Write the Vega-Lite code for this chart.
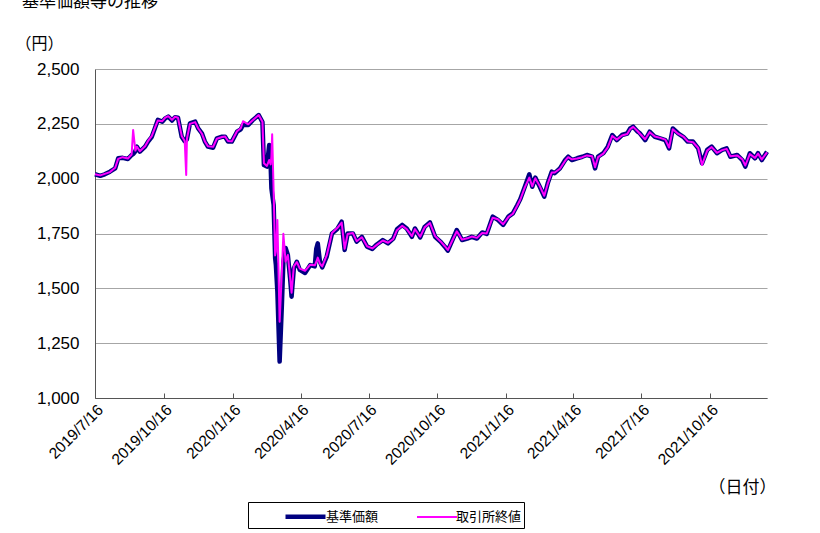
{
  "$schema": "https://vega.github.io/schema/vega-lite/v6.json",
  "width": 672,
  "height": 329,
  "autosize": {"type": "none"},
  "padding": {"left": 95, "top": 69, "right": 53, "bottom": 135},
  "background": "white",
  "title": {"text": "基準価額等の推移", "anchor": "start", "frame": "group", "dx": -73, "offset": 7, "baseline": "bottom", "fontSize": 17, "fontWeight": "normal", "font": "Noto Sans CJK JP", "color": "#000"},
  "config": {
    "view": {"stroke": null},
    "font": "Liberation Sans, Noto Sans CJK JP",
    "axis": {"labelFont": "Liberation Sans, Noto Sans CJK JP", "titleFont": "Noto Sans CJK JP", "labelColor": "#000", "titleColor": "#000", "titleFontWeight": "normal"},
    "legend": {"labelFont": "Noto Sans CJK JP", "labelColor": "#000"}
  },
  "data": {"values": [
    {"date":"2019-07-16","基準価額":2020,"取引所終値":2020},
    {"date":"2019-07-23","基準価額":2013,"取引所終値":2015},
    {"date":"2019-07-29","基準価額":2020,"取引所終値":2022},
    {"date":"2019-08-05","基準価額":2032,"取引所終値":2030},
    {"date":"2019-08-12","基準価額":2047,"取引所終値":2050},
    {"date":"2019-08-16","基準価額":2093,"取引所終値":2090},
    {"date":"2019-08-22","基準価額":2095,"取引所終値":2098},
    {"date":"2019-08-29","基準価額":2090,"取引所終値":2092},
    {"date":"2019-09-03","基準価額":2108,"取引所終値":2110},
    {"date":"2019-09-05","基準価額":2112,"取引所終値":2222},
    {"date":"2019-09-08","基準価額":2125,"取引所終値":2128},
    {"date":"2019-09-10","基準価額":2146,"取引所終値":2146},
    {"date":"2019-09-14","基準価額":2123,"取引所終値":2125},
    {"date":"2019-09-21","基準価額":2146,"取引所終値":2148},
    {"date":"2019-09-25","基準価額":2169,"取引所終値":2172},
    {"date":"2019-09-30","基準価額":2191,"取引所終値":2195},
    {"date":"2019-10-04","基準価額":2229,"取引所終値":2230},
    {"date":"2019-10-08","基準価額":2268,"取引所終値":2265},
    {"date":"2019-10-14","基準価額":2260,"取引所終値":2262},
    {"date":"2019-10-18","基準価額":2275,"取引所終値":2278},
    {"date":"2019-10-22","基準価額":2283,"取引所終値":2285},
    {"date":"2019-10-27","基準価額":2265,"取引所終値":2268},
    {"date":"2019-10-31","基準価額":2280,"取引所終値":2282},
    {"date":"2019-11-04","基準価額":2278,"取引所終値":2278},
    {"date":"2019-11-09","基準価額":2191,"取引所終値":2195},
    {"date":"2019-11-13","基準価額":2170,"取引所終値":2172},
    {"date":"2019-11-15","基準価額":2175,"取引所終値":2017},
    {"date":"2019-11-16","基準価額":2180,"取引所終値":2182},
    {"date":"2019-11-20","基準価額":2252,"取引所終値":2250},
    {"date":"2019-11-27","基準価額":2260,"取引所終値":2258},
    {"date":"2019-12-01","基準価額":2229,"取引所終値":2230},
    {"date":"2019-12-06","基準価額":2207,"取引所終値":2205},
    {"date":"2019-12-10","基準価額":2169,"取引所終値":2170},
    {"date":"2019-12-14","基準価額":2146,"取引所終値":2148},
    {"date":"2019-12-21","基準価額":2141,"取引所終値":2145},
    {"date":"2019-12-26","基準価額":2184,"取引所終値":2182},
    {"date":"2020-01-02","基準価額":2191,"取引所終値":2190},
    {"date":"2020-01-06","基準価額":2191,"取引所終値":2192},
    {"date":"2020-01-10","基準価額":2169,"取引所終値":2172},
    {"date":"2020-01-15","基準価額":2169,"取引所終値":2170},
    {"date":"2020-01-22","基準価額":2214,"取引所終値":2216},
    {"date":"2020-01-27","基準価額":2225,"取引所終値":2230},
    {"date":"2020-01-30","基準価額":2245,"取引所終値":2262},
    {"date":"2020-02-06","基準価額":2245,"取引所終値":2248},
    {"date":"2020-02-12","基準価額":2267,"取引所終値":2266},
    {"date":"2020-02-20","基準価額":2290,"取引所終値":2290},
    {"date":"2020-02-25","基準価額":2258,"取引所終値":2260},
    {"date":"2020-02-27","基準価額":2062,"取引所終値":2070},
    {"date":"2020-03-02","基準価額":2055,"取引所終値":2058},
    {"date":"2020-03-05","基準価額":2153,"取引所終値":2085},
    {"date":"2020-03-07","基準価額":2062,"取引所終値":2065},
    {"date":"2020-03-08","基準価額":1957,"取引所終値":2100},
    {"date":"2020-03-09","基準価額":1930,"取引所終値":2202},
    {"date":"2020-03-11","基準価額":1880,"取引所終値":1941},
    {"date":"2020-03-13","基準価額":1638,"取引所終値":1650},
    {"date":"2020-03-14","基準価額":1606,"取引所終値":1668},
    {"date":"2020-03-16","基準価額":1485,"取引所終値":1812},
    {"date":"2020-03-19","基準価額":1166,"取引所終値":1348},
    {"date":"2020-03-22","基準価額":1424,"取引所終値":1575},
    {"date":"2020-03-24","基準価額":1621,"取引所終値":1749},
    {"date":"2020-03-27","基準価額":1684,"取引所終値":1621},
    {"date":"2020-03-30","基準価額":1652,"取引所終値":1652},
    {"date":"2020-04-02","基準価額":1546,"取引所終値":1550},
    {"date":"2020-04-04","基準価額":1462,"取引所終値":1480},
    {"date":"2020-04-07","基準価額":1591,"取引所終値":1600},
    {"date":"2020-04-11","基準価額":1621,"取引所終値":1620},
    {"date":"2020-04-15","基準価額":1584,"取引所終値":1590},
    {"date":"2020-04-22","基準価額":1570,"取引所終値":1580},
    {"date":"2020-04-29","基準価額":1606,"取引所終値":1608},
    {"date":"2020-05-05","基準価額":1600,"取引所終値":1605},
    {"date":"2020-05-07","基準価額":1680,"取引所終値":1620},
    {"date":"2020-05-09","基準価額":1705,"取引所終値":1640},
    {"date":"2020-05-12","基準価額":1620,"取引所終値":1612},
    {"date":"2020-05-15","基準価額":1595,"取引所終値":1600},
    {"date":"2020-05-21","基準価額":1645,"取引所終値":1650},
    {"date":"2020-05-28","基準価額":1750,"取引所終値":1752},
    {"date":"2020-06-04","基準価額":1770,"取引所終値":1775},
    {"date":"2020-06-10","基準価額":1804,"取引所終値":1800},
    {"date":"2020-06-14","基準価額":1675,"取引所終値":1680},
    {"date":"2020-06-18","基準価額":1750,"取引所終値":1748},
    {"date":"2020-06-25","基準価額":1750,"取引所終値":1752},
    {"date":"2020-06-30","基準価額":1713,"取引所終値":1715},
    {"date":"2020-07-07","基準価額":1735,"取引所終値":1733},
    {"date":"2020-07-14","基準価額":1690,"取引所終値":1692},
    {"date":"2020-07-21","基準価額":1680,"取引所終値":1682},
    {"date":"2020-07-27","基準価額":1700,"取引所終値":1698},
    {"date":"2020-08-04","基準価額":1720,"取引所終値":1718},
    {"date":"2020-08-11","基準価額":1705,"取引所終値":1708},
    {"date":"2020-08-18","基準価額":1727,"取引所終値":1725},
    {"date":"2020-08-23","基準価額":1769,"取引所終値":1765},
    {"date":"2020-08-30","基準価額":1789,"取引所終値":1785},
    {"date":"2020-09-05","基準価額":1773,"取引所終値":1770},
    {"date":"2020-09-12","基準価額":1735,"取引所終値":1738},
    {"date":"2020-09-16","基準価額":1773,"取引所終値":1770},
    {"date":"2020-09-23","基準価額":1732,"取引所終値":1735},
    {"date":"2020-09-29","基準価額":1780,"取引所終値":1778},
    {"date":"2020-10-06","基準価額":1801,"取引所終値":1798},
    {"date":"2020-10-13","基準価額":1735,"取引所終値":1738},
    {"date":"2020-10-20","基準価額":1713,"取引所終値":1715},
    {"date":"2020-10-26","基準価額":1690,"取引所終値":1692},
    {"date":"2020-10-30","基準価額":1672,"取引所終値":1675},
    {"date":"2020-11-06","基準価額":1727,"取引所終値":1725},
    {"date":"2020-11-11","基準価額":1766,"取引所終値":1760},
    {"date":"2020-11-18","基準価額":1720,"取引所終値":1722},
    {"date":"2020-11-25","基準価額":1727,"取引所終値":1728},
    {"date":"2020-12-01","基準価額":1735,"取引所終値":1736},
    {"date":"2020-12-08","基準価額":1727,"取引所終値":1730},
    {"date":"2020-12-15","基準価額":1755,"取引所終値":1752},
    {"date":"2020-12-21","基準価額":1748,"取引所終値":1750},
    {"date":"2020-12-29","基準価額":1827,"取引所終値":1822},
    {"date":"2021-01-05","基準価額":1812,"取引所終値":1815},
    {"date":"2021-01-12","基準価額":1789,"取引所終値":1792},
    {"date":"2021-01-19","基準価額":1827,"取引所終値":1825},
    {"date":"2021-01-25","基準価額":1842,"取引所終値":1840},
    {"date":"2021-01-31","基準価額":1880,"取引所終値":1878},
    {"date":"2021-02-04","基準価額":1907,"取引所終値":1905},
    {"date":"2021-02-10","基準価額":1963,"取引所終値":1960},
    {"date":"2021-02-16","基準価額":2020,"取引所終値":2005},
    {"date":"2021-02-20","基準価額":1963,"取引所終値":1965},
    {"date":"2021-02-24","基準価額":2005,"取引所終値":2002},
    {"date":"2021-03-02","基準価額":1963,"取引所終値":1966},
    {"date":"2021-03-08","基準価額":1918,"取引所終値":1922},
    {"date":"2021-03-13","基準価額":1983,"取引所終値":1980},
    {"date":"2021-03-18","基準価額":2032,"取引所終値":2028},
    {"date":"2021-03-22","基準価額":2025,"取引所終値":2028},
    {"date":"2021-03-29","基準価額":2047,"取引所終値":2045},
    {"date":"2021-04-05","基準価額":2085,"取引所終値":2082},
    {"date":"2021-04-09","基準価額":2100,"取引所終値":2098},
    {"date":"2021-04-14","基準価額":2085,"取引所終値":2088},
    {"date":"2021-04-21","基準価額":2093,"取引所終値":2092},
    {"date":"2021-04-28","基準価額":2100,"取引所終値":2098},
    {"date":"2021-05-04","基準価額":2108,"取引所終値":2106},
    {"date":"2021-05-11","基準価額":2100,"取引所終値":2102},
    {"date":"2021-05-15","基準価額":2047,"取引所終値":2052},
    {"date":"2021-05-19","基準価額":2100,"取引所終値":2098},
    {"date":"2021-05-26","基準価額":2116,"取引所終値":2114},
    {"date":"2021-06-01","基準価額":2146,"取引所終値":2143},
    {"date":"2021-06-07","基準価額":2199,"取引所終値":2195},
    {"date":"2021-06-13","基準価額":2176,"取引所終値":2178},
    {"date":"2021-06-20","基準価額":2199,"取引所終値":2197},
    {"date":"2021-06-27","基準価額":2206,"取引所終値":2204},
    {"date":"2021-07-01","基準価額":2229,"取引所終値":2226},
    {"date":"2021-07-05","基準価額":2237,"取引所終値":2236},
    {"date":"2021-07-11","基準価額":2214,"取引所終値":2216},
    {"date":"2021-07-14","基準価額":2207,"取引所終値":2205},
    {"date":"2021-07-21","基準価額":2176,"取引所終値":2180},
    {"date":"2021-07-27","基準価額":2214,"取引所終値":2212},
    {"date":"2021-08-03","基準価額":2191,"取引所終値":2192},
    {"date":"2021-08-10","基準価額":2184,"取引所終値":2186},
    {"date":"2021-08-17","基準価額":2176,"取引所終値":2178},
    {"date":"2021-08-22","基準価額":2138,"取引所終値":2142},
    {"date":"2021-08-27","基準価額":2229,"取引所終値":2225},
    {"date":"2021-09-03","基準価額":2207,"取引所終値":2205},
    {"date":"2021-09-10","基準価額":2191,"取引所終値":2192},
    {"date":"2021-09-16","基準価額":2169,"取引所終値":2170},
    {"date":"2021-09-23","基準価額":2169,"取引所終値":2166},
    {"date":"2021-09-30","基準価額":2138,"取引所終値":2140},
    {"date":"2021-10-05","基準価額":2070,"取引所終値":2062},
    {"date":"2021-10-12","基準価額":2131,"取引所終値":2128},
    {"date":"2021-10-18","基準価額":2146,"取引所終値":2144},
    {"date":"2021-10-25","基準価額":2116,"取引所終値":2118},
    {"date":"2021-11-01","基準価額":2131,"取引所終値":2130},
    {"date":"2021-11-07","基準価額":2138,"取引所終値":2136},
    {"date":"2021-11-12","基準価額":2100,"取引所終値":2102},
    {"date":"2021-11-21","基準価額":2108,"取引所終値":2106},
    {"date":"2021-11-28","基準価額":2085,"取引所終値":2088},
    {"date":"2021-12-02","基準価額":2055,"取引所終値":2060},
    {"date":"2021-12-08","基準価額":2116,"取引所終値":2112},
    {"date":"2021-12-15","基準価額":2093,"取引所終値":2095},
    {"date":"2021-12-19","基準価額":2116,"取引所終値":2114},
    {"date":"2021-12-24","基準価額":2085,"取引所終値":2088},
    {"date":"2021-12-31","基準価額":2123,"取引所終値":2120}
  ]},
  "transform": [{"fold": ["基準価額", "取引所終値"], "as": ["series", "value"]}],
  "mark": {"type": "line", "interpolate": "linear", "strokeJoin": "round"},
  "encoding": {
    "x": {
      "field": "date", "type": "temporal",
      "scale": {"domain": ["2019-07-16", "2021-12-31"]},
      "axis": {
        "values": ["2019-07-16", "2019-10-16", "2020-01-16", "2020-04-16", "2020-07-16", "2020-10-16", "2021-01-16", "2021-04-16", "2021-07-16", "2021-10-16"],
        "format": "%Y/%-m/%-d",
        "labelAngle": -45, "labelAlign": "right", "labelBaseline": "top",
        "labelFontSize": 15.5, "labelPadding": 9, "labelOverlap": false, "labelFlush": false,
        "grid": false, "tickSize": -5, "tickColor": "#555", "domainColor": "#555",
        "title": "（日付）", "titleFontSize": 17, "titleAngle": 0, "titleAlign": "right", "titleBaseline": "middle",
        "titleX": 681, "titleY": 89
      }
    },
    "y": {
      "field": "value", "type": "quantitative",
      "scale": {"domain": [1000, 2500], "nice": false, "zero": false},
      "axis": {
        "values": [1000, 1250, 1500, 1750, 2000, 2250, 2500],
        "format": ",.0f", "labelFontSize": 17, "labelPadding": 16,
        "ticks": false, "domainColor": "#555",
        "grid": true, "gridColor": "#a6a6a6", "gridWidth": 1.2,
        "title": "（円）", "titleFontSize": 16, "titleAngle": 0, "titleAlign": "left", "titleBaseline": "middle",
        "titleX": -80, "titleY": -26
      }
    },
    "color": {
      "field": "series", "type": "nominal",
      "scale": {"domain": ["基準価額", "取引所終値"], "range": ["#000080", "#ff00ff"]},
      "legend": {
        "title": null, "orient": "none", "direction": "horizontal", "legendX": 153, "legendY": 433,
        "symbolType": "M-2,0H2", "symbolSize": 400, "labelFontSize": 13, "padding": 2,
        "labelExpr": "datum.label == '取引所終値' ? datum.label + '\u3000\u3000' : datum.label",
        "strokeColor": "#000", "fillColor": "white", "symbolOffset": 43, "labelOffset": 8, "columnPadding": 4
      }
    },
    "strokeWidth": {
      "field": "series", "type": "nominal",
      "scale": {"domain": ["基準価額", "取引所終値"], "range": [4.5, 2]},
      "legend": {
        "title": null, "orient": "none", "direction": "horizontal", "legendX": 153, "legendY": 433,
        "symbolType": "M-2,0H2", "symbolSize": 400, "labelFontSize": 13, "padding": 2,
        "labelExpr": "datum.label == '取引所終値' ? datum.label + '\u3000\u3000' : datum.label",
        "strokeColor": "#000", "fillColor": "white", "symbolOffset": 43, "labelOffset": 8, "columnPadding": 4
      }
    }
  }
}
